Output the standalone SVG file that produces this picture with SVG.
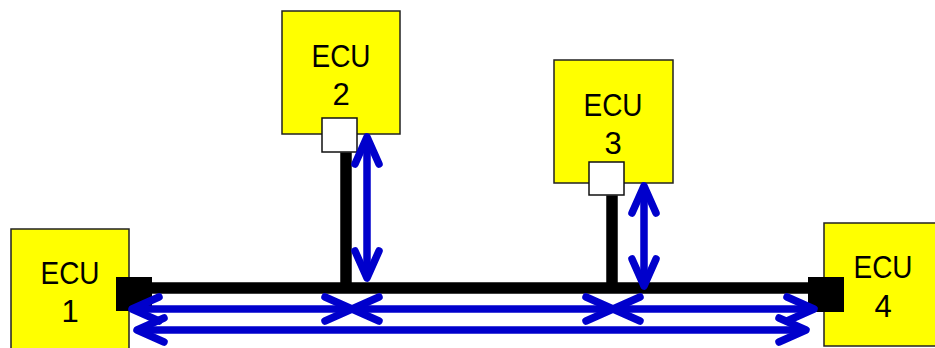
<svg xmlns="http://www.w3.org/2000/svg" width="935" height="348" viewBox="0 0 935 348">
<style>
.box{fill:#ffff00;stroke:#222;stroke-width:1.5}
.port-w{fill:#fff;stroke:#111;stroke-width:1.5}
.port-b{fill:#000}
.lbl{font-family:"Liberation Sans",Arial,sans-serif;font-size:31px;fill:#000;text-anchor:middle}
.wire{stroke:#000;stroke-width:11.5;fill:none}
.arr{stroke:#0000cc;stroke-width:7.5;fill:none;marker-start:url(#ah);marker-end:url(#ah)}
</style>
<defs>
<marker id="ah" markerUnits="userSpaceOnUse" orient="auto-start-reverse" refX="0" refY="0" markerWidth="60" markerHeight="60" viewBox="-40 -30 60 60" overflow="visible">
<path d="M-27,-12 L0,0 L-27,12" fill="none" stroke="#0000cc" stroke-width="7.5" stroke-linecap="round" stroke-linejoin="round"/>
</marker>
</defs>
<rect width="935" height="348" fill="#fff"/>
<g id="ecu1">
<rect class="box" x="11" y="229" width="118" height="124"/>
<text class="lbl" x="70" y="284" textLength="59" lengthAdjust="spacingAndGlyphs">ECU</text>
<text class="lbl" x="70" y="322">1</text>
<rect class="port-b" x="116" y="277" width="36" height="34"/>
</g>
<g id="ecu2">
<rect class="box" x="282" y="11" width="118" height="123"/>
<text class="lbl" x="341" y="67" textLength="59" lengthAdjust="spacingAndGlyphs">ECU</text>
<text class="lbl" x="341" y="105">2</text>
<rect class="port-w" x="322" y="118" width="35" height="34"/>
</g>
<g id="ecu3">
<rect class="box" x="554" y="60" width="119" height="123"/>
<text class="lbl" x="613" y="116" textLength="59" lengthAdjust="spacingAndGlyphs">ECU</text>
<text class="lbl" x="613" y="154">3</text>
<rect class="port-w" x="589" y="162" width="35" height="33"/>
</g>
<g id="ecu4">
<rect class="box" x="824" y="223" width="120" height="123"/>
<text class="lbl" x="883" y="278" textLength="59" lengthAdjust="spacingAndGlyphs">ECU</text>
<text class="lbl" x="883" y="317">4</text>
<rect class="port-b" x="808" y="277" width="36" height="35"/>
</g>
<g id="connectors">
<line class="wire" x1="152" y1="288" x2="808" y2="288"/>
<line class="wire" x1="346" y1="152.5" x2="346" y2="288"/>
<line class="wire" x1="612" y1="195.5" x2="612" y2="288"/>
<line class="arr" x1="367" y1="137" x2="367" y2="278"/>
<line class="arr" x1="644" y1="186" x2="644" y2="286"/>
<line class="arr" x1="132" y1="309" x2="352" y2="309"/>
<line class="arr" x1="352" y1="309" x2="613" y2="309"/>
<line class="arr" x1="613" y1="309" x2="814" y2="309"/>
<line class="arr" x1="137" y1="330" x2="806" y2="330"/>
</g>
</svg>
